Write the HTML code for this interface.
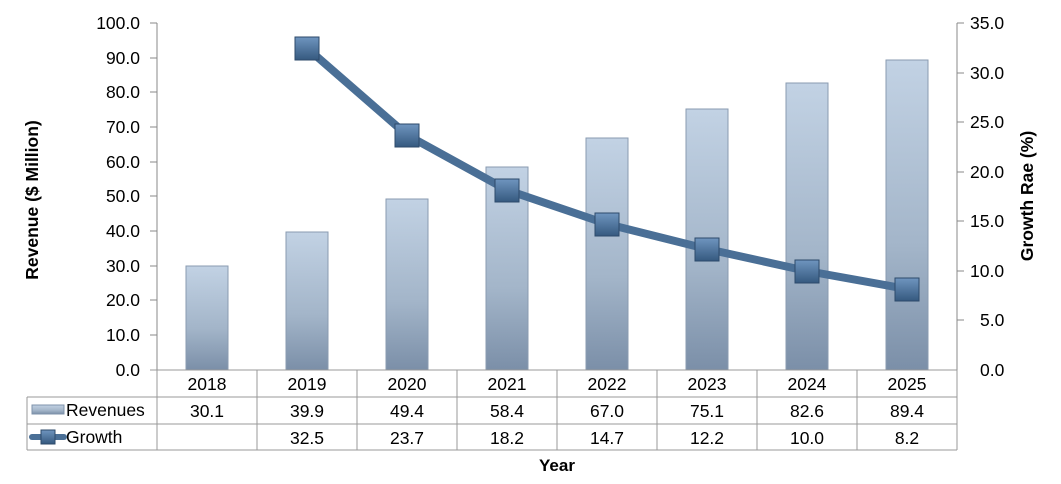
<!DOCTYPE html>
<html><head><style>body{margin:0;background:#fff}svg text{font-family:"Liberation Sans",sans-serif}</style></head><body>
<svg width="1061" height="479" xmlns="http://www.w3.org/2000/svg">
<defs>
<linearGradient id="bar" x1="0" y1="0" x2="0" y2="1"><stop offset="0" stop-color="#c2d2e4"/><stop offset=".6" stop-color="#a3b5c9"/><stop offset="1" stop-color="#7b8fa8"/></linearGradient>
<linearGradient id="mk" x1="0" y1="0" x2="0" y2="1"><stop offset="0" stop-color="#6f95bf"/><stop offset="1" stop-color="#35597f"/></linearGradient>
</defs>
<g font-size="17.5" fill="#000" text-anchor="end">
<text x="140" y="29">100.0</text><text x="140" y="64">90.0</text><text x="140" y="98">80.0</text><text x="140" y="133">70.0</text><text x="140" y="168">60.0</text><text x="140" y="202">50.0</text><text x="140" y="237">40.0</text><text x="140" y="272">30.0</text><text x="140" y="306">20.0</text><text x="140" y="341">10.0</text><text x="140" y="376">0.0</text>
</g>
<g font-size="17.5" text-anchor="start">
<text x="970" y="29">35.0</text><text x="970" y="79">30.0</text><text x="970" y="128">25.0</text><text x="970" y="178">20.0</text><text x="970" y="227">15.0</text><text x="970" y="277">10.0</text><text x="980" y="326">5.0</text><text x="980" y="376">0.0</text>
</g>
<g stroke="#888" stroke-width="1">
<line x1="157" y1="23" x2="157" y2="370"/><line x1="957" y1="23" x2="957" y2="370"/>
<line x1="150" y1="23" x2="157" y2="23"/><line x1="150" y1="58" x2="157" y2="58"/><line x1="150" y1="92" x2="157" y2="92"/><line x1="150" y1="127" x2="157" y2="127"/><line x1="150" y1="162" x2="157" y2="162"/><line x1="150" y1="196" x2="157" y2="196"/><line x1="150" y1="231" x2="157" y2="231"/><line x1="150" y1="266" x2="157" y2="266"/><line x1="150" y1="300" x2="157" y2="300"/><line x1="150" y1="335" x2="157" y2="335"/>
<line x1="957" y1="23" x2="964" y2="23"/><line x1="957" y1="73" x2="964" y2="73"/><line x1="957" y1="122" x2="964" y2="122"/><line x1="957" y1="172" x2="964" y2="172"/><line x1="957" y1="221" x2="964" y2="221"/><line x1="957" y1="271" x2="964" y2="271"/><line x1="957" y1="320" x2="964" y2="320"/>
</g>
<g>
<rect x="186" y="266" width="42" height="104" fill="url(#bar)" stroke="#8a9bb0"/>
<rect x="286" y="232" width="42" height="138" fill="url(#bar)" stroke="#8a9bb0"/>
<rect x="386" y="199" width="42" height="171" fill="url(#bar)" stroke="#8a9bb0"/>
<rect x="486" y="167" width="42" height="203" fill="url(#bar)" stroke="#8a9bb0"/>
<rect x="586" y="138" width="42" height="232" fill="url(#bar)" stroke="#8a9bb0"/>
<rect x="686" y="109" width="42" height="261" fill="url(#bar)" stroke="#8a9bb0"/>
<rect x="786" y="83" width="42" height="287" fill="url(#bar)" stroke="#8a9bb0"/>
<rect x="886" y="60" width="42" height="310" fill="url(#bar)" stroke="#8a9bb0"/>
</g>
<polyline points="307,48 407,135 507,190 607,224 707,249 807,271 907,289" fill="none" stroke="#4a6f96" stroke-width="8" stroke-linejoin="round"/>
<g fill="url(#mk)" stroke="#2d4a6a" stroke-width="1">
<rect x="295" y="37" width="24" height="23"/><rect x="395" y="124" width="24" height="23"/><rect x="495" y="179" width="24" height="23"/><rect x="595" y="213" width="24" height="23"/><rect x="695" y="238" width="24" height="23"/><rect x="795" y="260" width="24" height="23"/><rect x="895" y="278" width="24" height="23"/>
</g>
<g stroke="#999" stroke-width="1" fill="none">
<line x1="150" y1="370" x2="957" y2="370"/>
<line x1="27" y1="397" x2="957" y2="397"/><line x1="27" y1="424" x2="957" y2="424"/><line x1="27" y1="450" x2="957" y2="450"/>
<line x1="27" y1="397" x2="27" y2="450"/>
<line x1="157" y1="370" x2="157" y2="450"/><line x1="257" y1="370" x2="257" y2="450"/><line x1="357" y1="370" x2="357" y2="450"/><line x1="457" y1="370" x2="457" y2="450"/><line x1="557" y1="370" x2="557" y2="450"/><line x1="657" y1="370" x2="657" y2="450"/><line x1="757" y1="370" x2="757" y2="450"/><line x1="857" y1="370" x2="857" y2="450"/><line x1="957" y1="370" x2="957" y2="450"/>
</g>
<g font-size="17.5" text-anchor="middle">
<text x="207" y="390">2018</text><text x="307" y="390">2019</text><text x="407" y="390">2020</text><text x="507" y="390">2021</text><text x="607" y="390">2022</text><text x="707" y="390">2023</text><text x="807" y="390">2024</text><text x="907" y="390">2025</text>
<text x="207" y="417">30.1</text><text x="307" y="417">39.9</text><text x="407" y="417">49.4</text><text x="507" y="417">58.4</text><text x="607" y="417">67.0</text><text x="707" y="417">75.1</text><text x="807" y="417">82.6</text><text x="907" y="417">89.4</text>
<text x="307" y="444">32.5</text><text x="407" y="444">23.7</text><text x="507" y="444">18.2</text><text x="607" y="444">14.7</text><text x="707" y="444">12.2</text><text x="807" y="444">10.0</text><text x="907" y="444">8.2</text>
</g>
<rect x="32" y="405" width="32" height="9" fill="url(#bar)" stroke="#7f93ab"/>
<line x1="32" y1="437" x2="64" y2="437" stroke="#4a6f96" stroke-width="6" stroke-linecap="round"/>
<rect x="41" y="430" width="14" height="14" fill="url(#mk)" stroke="#2d4a6a"/>
<g font-size="17.5"><text x="66" y="416">Revenues</text><text x="66" y="443">Growth</text></g>
<text x="557" y="471" font-size="17" font-weight="bold" text-anchor="middle">Year</text>
<text transform="translate(38,200) rotate(-90)" font-size="17.5" font-weight="bold" text-anchor="middle">Revenue ($ Million)</text>
<text transform="translate(1033,196) rotate(-90)" font-size="17.5" font-weight="bold" text-anchor="middle">Growth Rae (%)</text>
</svg>
</body></html>
